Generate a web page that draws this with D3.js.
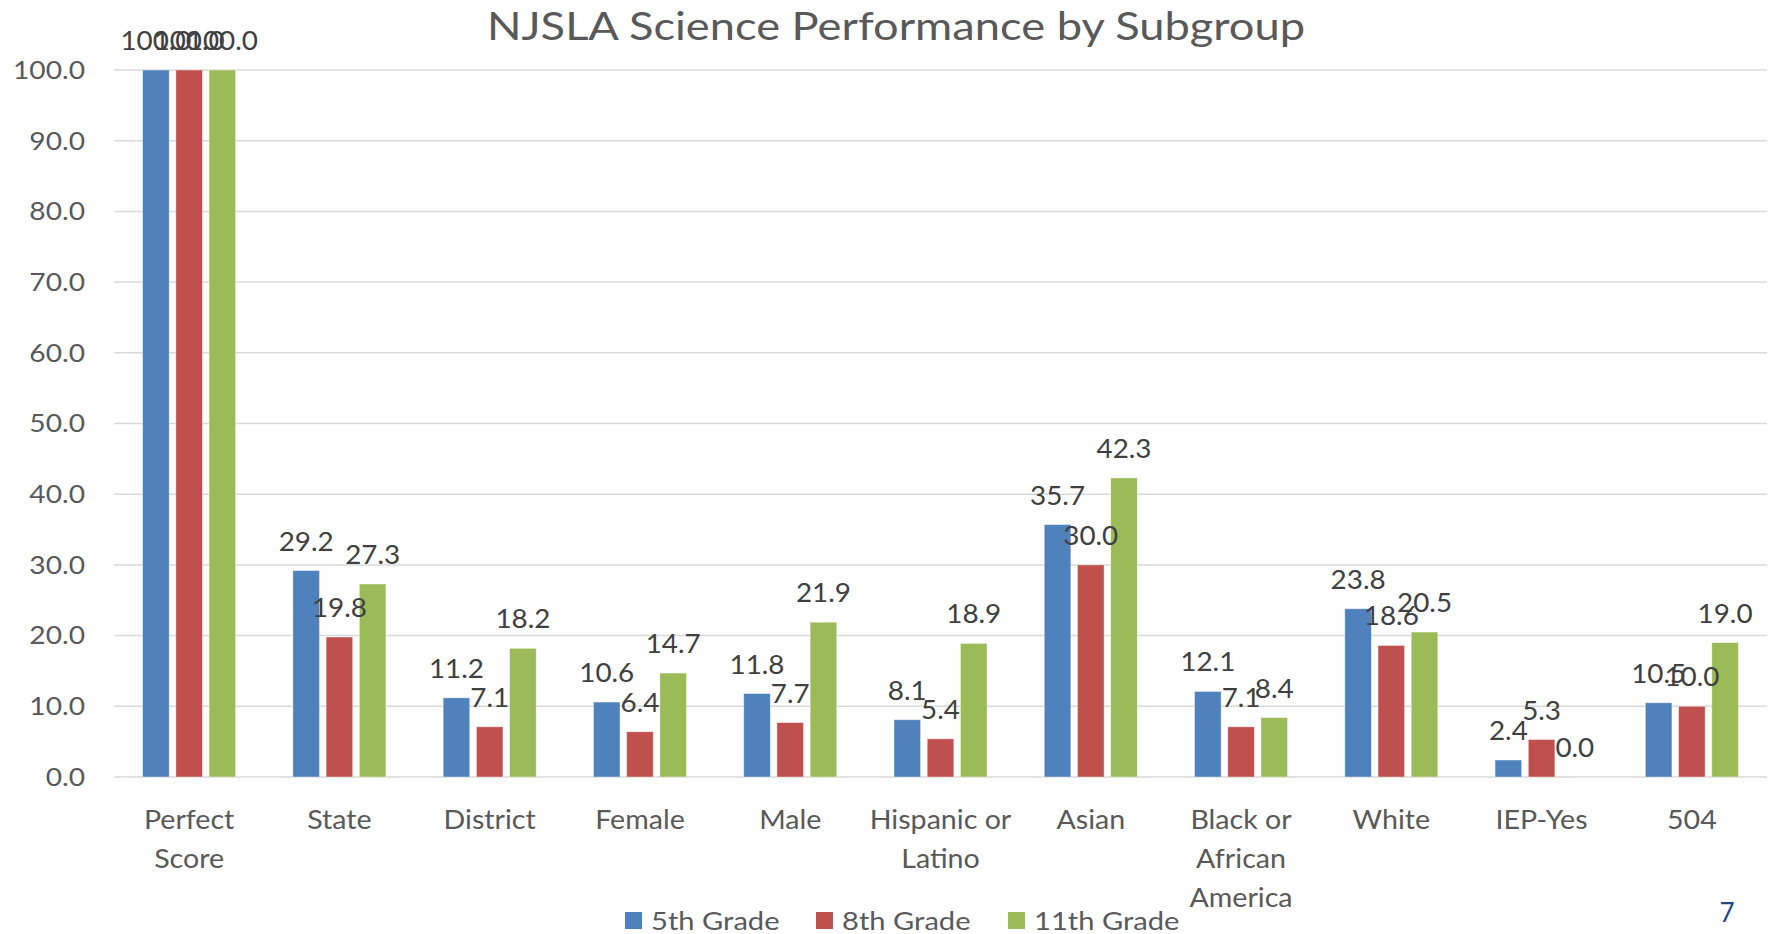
<!DOCTYPE html>
<html><head><meta charset="utf-8">
<script src="https://cdn.jsdelivr.net/npm/d3@7"></script>
<style>html,body{margin:0;padding:0;background:#fff;}svg{display:block;}</style>
</head><body>
<svg id="chart" width="1773" height="934"></svg>
<script>
const categories = [["Perfect","Score"],["State"],["District"],["Female"],["Male"],["Hispanic or","Latino"],["Asian"],["Black or","African","America"],["White"],["IEP-Yes"],["504"]];
const seriesNames = ["5th Grade","8th Grade","11th Grade"];
const grade5 = [100.0,29.2,11.2,10.6,11.8,8.1,35.7,12.1,23.8,2.4,10.5];
const grade8 = [100.0,19.8,7.1,6.4,7.7,5.4,30.0,7.1,18.6,5.3,10.0];
const grade11 = [100.0,27.3,18.2,14.7,21.9,18.9,42.3,8.4,20.5,0.0,19.0];
const yTicks = [0,10,20,30,40,50,60,70,80,90,100];
const colors = ["#4F81BD","#C0504D","#9BBB59"];
const title = "NJSLA Science Performance by Subgroup";
const pageNum = "7";

const seriesVals = [grade5, grade8, grade11];
const catKeys = categories.map(c => c.join(" "));
const svg = d3.select("#chart");
const font = "Lato, 'Open Sans', sans-serif";

const x = d3.scaleBand().domain(catKeys).range([114, 1767]).paddingInner(0).paddingOuter(0);
const gw = x.bandwidth() * 0.619;
const xs = d3.scaleBand().domain(seriesNames).range([-gw/2, gw/2]).paddingInner(0.2).paddingOuter(0);
const y = d3.scaleLinear().domain([0, 100]).range([777, 70]);

// gridlines
svg.append("g").selectAll("line").data(yTicks).join("line")
  .attr("x1", 114).attr("x2", 1767)
  .attr("y1", d => y(d)).attr("y2", d => y(d))
  .attr("stroke", "#d9d9d9").attr("stroke-width", 1.5);

// y tick labels
svg.append("g").selectAll("text").data(yTicks).join("text")
  .attr("transform", d => `translate(85,${y(d)}) scale(1.15,1)`)
  .attr("dy", "0.36em")
  .attr("text-anchor", "end").attr("font-family", font).attr("font-size", 24.5)
  .attr("fill", "#595959").text(d => d.toFixed(1));

// bars
const rows = [];
catKeys.forEach((c, i) => seriesNames.forEach((s, j) => rows.push({c, s, j, v: seriesVals[j][i]})));
svg.append("g").selectAll("rect").data(rows).join("rect")
  .attr("x", d => x(d.c) + x.bandwidth()/2 + xs(d.s))
  .attr("width", xs.bandwidth())
  .attr("y", d => y(d.v))
  .attr("height", d => y(0) - y(d.v))
  .attr("fill", d => colors[d.j])
  .attr("stroke", "#fff").attr("stroke-opacity", 0.5).attr("stroke-width", 0.8);

// data labels
svg.append("g").selectAll("text").data(rows).join("text")
  .attr("transform", d => `translate(${x(d.c) + x.bandwidth()/2 + xs(d.s) + xs.bandwidth()/2},${y(d.v) - 20}) scale(1.05,1)`)
  .attr("text-anchor", "middle").attr("font-family", font).attr("font-size", 26.5)
  .attr("fill", "#404040").text(d => d.v.toFixed(1));

// category labels
const cg = svg.append("g").selectAll("text").data(categories).join("text")
  .attr("transform", d => `translate(${x(d.join(" ")) + x.bandwidth()/2},0) scale(1.1,1)`)
  .attr("text-anchor", "middle").attr("font-family", font).attr("font-size", 26)
  .attr("fill", "#595959");
cg.each(function(d){
  const t = d3.select(this);
  d.forEach((line, k) => t.append("tspan").attr("x", 0).attr("y", 829 + k*39).text(line));
});

// title
svg.append("text").attr("transform", "translate(896,40) scale(1.16,1)").attr("text-anchor", "middle")
  .attr("font-family", font).attr("font-size", 39).attr("fill", "#595959").text(title);

// legend
const legX = [625, 816, 1008];
const lg = svg.append("g").selectAll("g").data(seriesNames).join("g")
  .attr("transform", (d, i) => `translate(${legX[i]},0)`);
lg.append("rect").attr("x", 0).attr("y", 912).attr("width", 17).attr("height", 17).attr("fill", (d, i) => colors[i]);
lg.append("text").attr("transform", "translate(26,930) scale(1.12,1)").attr("font-family", font).attr("font-size", 26)
  .attr("fill", "#595959").text(d => d);

// page number
svg.append("text").attr("x", 1727).attr("y", 922).attr("text-anchor", "middle")
  .attr("font-family", font).attr("font-size", 26).attr("fill", "#1F497D").text(pageNum);
</script>
</body></html>
